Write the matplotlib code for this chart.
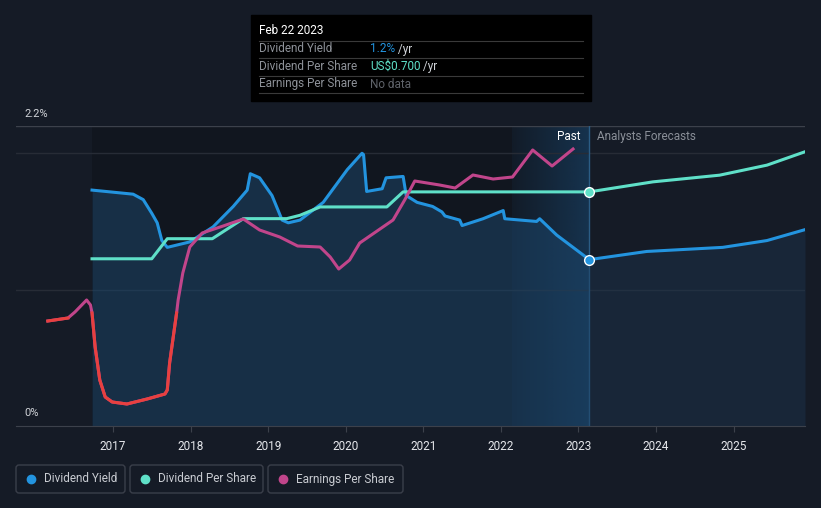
import numpy as np
import matplotlib
matplotlib.use('Agg')
import matplotlib.pyplot as plt
from matplotlib.patches import Rectangle, FancyBboxPatch

plt.rcParams['font.family'] = ['Roboto', 'DejaVu Sans']

# ---- data (decimal years) ----
yield_x = [2016.73, 2017.26, 2017.39, 2017.50, 2017.57, 2017.63, 2017.70, 2017.99, 2018.29,
           2018.55, 2018.73, 2018.77, 2018.89, 2019.05, 2019.18, 2019.26, 2019.41, 2019.71,
           2020.02, 2020.21, 2020.23, 2020.27, 2020.47, 2020.52, 2020.74, 2020.78, 2020.92,
           2021.12, 2021.24, 2021.28, 2021.47, 2021.50, 2021.77, 2022.03, 2022.05, 2022.46,
           2022.50, 2022.72, 2022.93, 2023.14]
yield_y = [1.73, 1.70, 1.66, 1.56, 1.49, 1.36, 1.31, 1.35, 1.46,
           1.61, 1.73, 1.85, 1.82, 1.69, 1.51, 1.49, 1.51, 1.64,
           1.88, 2.00, 1.99, 1.72, 1.74, 1.82, 1.83, 1.69, 1.64,
           1.61, 1.57, 1.54, 1.51, 1.47, 1.52, 1.58, 1.52, 1.50,
           1.52, 1.40, 1.31, 1.22]
yield_fc_x = [2023.14, 2023.88, 2024.86, 2025.43, 2025.92]
yield_fc_y = [1.22, 1.28, 1.31, 1.36, 1.44]

dps_x = [2016.73, 2017.50, 2017.70, 2018.28, 2018.68, 2019.24, 2019.41, 2019.67, 2020.53,
         2020.74, 2023.14]
dps_y = [0.50, 0.50, 0.56, 0.56, 0.62, 0.62, 0.63, 0.655, 0.655, 0.70, 0.70]
dps_fc_x = [2023.14, 2023.96, 2024.82, 2025.43, 2025.92]
dps_fc_y = [0.70, 0.73, 0.75, 0.78, 0.82]

eps_x = [2016.16, 2016.42, 2016.51, 2016.66, 2016.71, 2016.73, 2016.77, 2016.83, 2016.90,
         2016.99, 2017.18, 2017.44, 2017.67, 2017.70, 2017.73, 2017.82, 2017.84, 2017.90,
         2017.99, 2018.15, 2018.42, 2018.68, 2018.89, 2019.15, 2019.38, 2019.67, 2019.80,
         2019.91, 2020.05, 2020.18, 2020.61, 2020.76, 2020.89, 2021.21, 2021.41, 2021.64,
         2021.90, 2022.15, 2022.41, 2022.66, 2022.93]
eps_y = [-0.08, -0.05, 0.01, 0.13, 0.08, 0.0, -0.34, -0.67, -0.84,
         -0.89, -0.91, -0.86, -0.81, -0.77, -0.50, 0.0, 0.13, 0.40,
         0.66, 0.80, 0.87, 0.94, 0.83, 0.76, 0.67, 0.66, 0.56,
         0.44, 0.53, 0.70, 0.93, 1.13, 1.32, 1.28, 1.25, 1.38,
         1.34, 1.36, 1.63, 1.47, 1.64]

years = [2017, 2018, 2019, 2020, 2021, 2022, 2023, 2024, 2025]
today = 2023.14
past_start = 2022.14

BG = '#151b26'
BLUE = '#2394df'
CYAN = '#5fe0c8'
MAG = '#c1458b'
RED = '#e8403f'

W, H = 821, 508
fig = plt.figure(figsize=(W / 100, H / 100), dpi=100, facecolor=BG)
ax = fig.add_axes([16 / W, (H - 426) / H, (805 - 16) / W, 300 / H])
ax.set_facecolor(BG)
xmin, xmax = 2015.75, 2025.92
ax.set_xlim(xmin, xmax)
ax.set_ylim(0, 2.2)

# darker past area
ax.axvspan(yield_x[0], today, color='#0c1016', alpha=0.4, lw=0, zorder=0)

# highlighted last year
grad = np.zeros((2, 256, 4))
grad[..., 0] = 30 / 255
grad[..., 1] = 95 / 255
grad[..., 2] = 150 / 255
grad[..., 3] = np.linspace(0.08, 0.4, 256)
ax.imshow(grad, extent=[past_start, today, 0, 2.2], aspect='auto', zorder=1,
          interpolation='bilinear')
ax.axvline(today, color='#2b5d85', lw=1, zorder=2)

# gridlines
ax.axhline(2.2, color='#3c414b', lw=1, zorder=1)
for g in [1.0, 2.0]:
    ax.axhline(g, color='#272c36', lw=1, zorder=1)

# yield fill + line
ax.fill_between(yield_x, 0, yield_y, color='#1c4468', alpha=0.55, lw=0, zorder=2)
ax.fill_between(yield_fc_x, 0, yield_fc_y, color='#1c3550', alpha=0.45, lw=0, zorder=2)
ax.plot(yield_x, yield_y, color=BLUE, lw=2.2, zorder=5, solid_joinstyle='round')
ax.plot(yield_fc_x, yield_fc_y, color=BLUE, lw=2.2, zorder=5)
ax.plot([today], [yield_y[-1]], 'o', ms=7, color=BLUE, mec='white', mew=1, zorder=8)

# DPS on its own scale
ax2 = ax.twinx()
ax2.set_ylim(0, 0.897)
ax2.set_xlim(xmin, xmax)
ax2.plot(dps_x, dps_y, color=CYAN, lw=2.2, zorder=5, solid_joinstyle='round')
ax2.plot(dps_fc_x, dps_fc_y, color=CYAN, lw=2.2, zorder=5)
ax2.plot([today], [dps_y[-1]], 'o', ms=7, color=CYAN, mec='white', mew=1, zorder=8)
ax2.axis('off')

# EPS on its own scale
ax3 = ax.twinx()
ax3.set_ylim(-1.13, 1.87)
ax3.set_xlim(xmin, xmax)
eps_arr = np.array(eps_y)
ax3.plot(eps_x, eps_y, color=MAG, lw=2.2, zorder=4, solid_joinstyle='round')
ax3.plot(eps_x, np.where(eps_arr <= 0, eps_arr, np.nan), color=RED, lw=2.2, zorder=4,
         solid_joinstyle='round')
ax3.axis('off')

# axes styling
for s in ['top', 'right', 'left']:
    ax.spines[s].set_visible(False)
ax.spines['bottom'].set_color('#3c414b')
ax.set_yticks([])
ax.set_xticks(years)
ax.set_xticklabels([str(y) for y in years])
ax.tick_params(axis='x', colors='#3c414b', labelcolor='#e6e8ec', labelsize=8.5,
               length=4, pad=6)

ax.text(today - 0.11, 2.12, 'Past', color='white', fontsize=8.5, ha='right', va='center')
ax.text(today + 0.1, 2.12, 'Analysts Forecasts', color='#8a8f98', fontsize=8.5,
        ha='left', va='center')

# overlay in pixel coords
ov = fig.add_axes([0, 0, 1, 1], facecolor='none')
ov.set_xlim(0, W)
ov.set_ylim(H, 0)
ov.axis('off')

ov.text(24, 114, '2.2%', color='#d0d3d8', fontsize=8, va='center')
ov.text(24, 413, '0%', color='#d0d3d8', fontsize=8, va='center')

# tooltip
ov.add_patch(Rectangle((251, 15), 340, 86, color='black', zorder=10))
ov.text(259, 31, 'Feb 22 2023', color='white', fontsize=8.5, va='center', zorder=11)
for yy in [41, 58, 76, 93]:
    ov.plot([259, 583], [yy, yy], color='#3a3a3a', lw=0.8, zorder=11)
rows = [('Dividend Yield', '1.2%', BLUE, ' /yr'),
        ('Dividend Per Share', 'US$0.700', CYAN, ' /yr'),
        ('Earnings Per Share', 'No data', '#5f636a', '')]
for i, (lab, val, col, suf) in enumerate(rows):
    yy = 49 + i * 17.5
    ov.text(259, yy, lab, color='#8e9299', fontsize=8.5, va='center', zorder=11)
    t = ov.text(370, yy, val, color=col, fontsize=8.5, va='center', zorder=11)
    if suf:
        fig.canvas.draw()
        bb = t.get_window_extent()
        ov.text(bb.x1, yy, suf, color='#d0d3d8', fontsize=8.5, va='center', zorder=11)

# legend
legend = [('Dividend Yield', BLUE, 16, 125), ('Dividend Per Share', CYAN, 130, 263),
          ('Earnings Per Share', MAG, 268, 403)]
for lab, col, x0, x1 in legend:
    ov.add_patch(FancyBboxPatch((x0, 465), x1 - x0, 28, boxstyle='round,pad=0,rounding_size=3',
                                fc='none', ec='#3a3f4a', lw=1))
    ov.plot([x0 + 15], [479], 'o', ms=6, color=col)
    ov.text(x0 + 28, 479, lab, color='#c9ccd2', fontsize=8.5, va='center')

fig.savefig('out.png', dpi=100, facecolor=BG)
